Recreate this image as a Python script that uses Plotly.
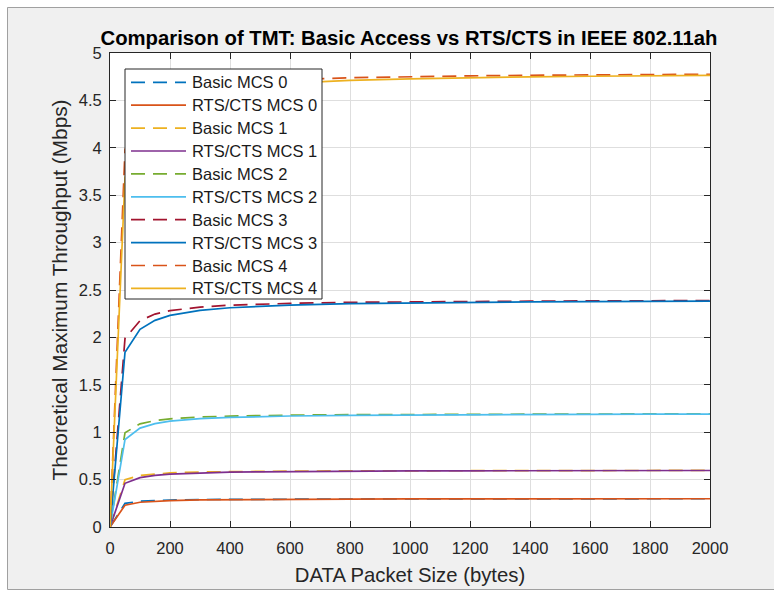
import plotly.graph_objects as go

# Packet sizes (bytes)
packet_size = [0, 50, 100, 150, 200, 300, 400, 500, 600, 800, 1000, 1200, 1400, 1600, 1800, 2000]

# Theoretical maximum throughput (Mbps)
basic_mcs0 = [0, 0.249, 0.272, 0.281, 0.285, 0.290, 0.292, 0.294, 0.295, 0.296, 0.297, 0.297, 0.298, 0.298, 0.298, 0.298]
rts_mcs0   = [0, 0.230, 0.261, 0.273, 0.279, 0.286, 0.289, 0.291, 0.293, 0.294, 0.296, 0.296, 0.297, 0.297, 0.298, 0.298]
basic_mcs1 = [0, 0.498, 0.544, 0.561, 0.571, 0.580, 0.585, 0.588, 0.590, 0.592, 0.594, 0.595, 0.596, 0.596, 0.597, 0.597]
rts_mcs1   = [0, 0.461, 0.521, 0.545, 0.558, 0.571, 0.578, 0.582, 0.585, 0.589, 0.591, 0.593, 0.594, 0.594, 0.595, 0.596]
basic_mcs2 = [0, 0.995, 1.088, 1.123, 1.141, 1.160, 1.170, 1.176, 1.180, 1.185, 1.188, 1.190, 1.191, 1.192, 1.193, 1.194]
rts_mcs2   = [0, 0.922, 1.043, 1.090, 1.116, 1.143, 1.156, 1.165, 1.171, 1.178, 1.182, 1.185, 1.187, 1.189, 1.190, 1.191]
basic_mcs3 = [0, 1.990, 2.176, 2.246, 2.282, 2.320, 2.340, 2.352, 2.359, 2.370, 2.376, 2.380, 2.382, 2.385, 2.386, 2.388]
rts_mcs3   = [0, 1.843, 2.085, 2.180, 2.232, 2.285, 2.313, 2.330, 2.341, 2.356, 2.364, 2.370, 2.374, 2.378, 2.380, 2.382]
basic_mcs4 = [0, 3.980, 4.352, 4.491, 4.565, 4.641, 4.680, 4.703, 4.719, 4.739, 4.751, 4.759, 4.765, 4.769, 4.773, 4.776]
rts_mcs4   = [0, 3.686, 4.170, 4.361, 4.463, 4.570, 4.625, 4.659, 4.682, 4.711, 4.728, 4.740, 4.749, 4.755, 4.760, 4.764]

series_names = ["Basic MCS 0", "RTS/CTS MCS 0", "Basic MCS 1", "RTS/CTS MCS 1", "Basic MCS 2",
                "RTS/CTS MCS 2", "Basic MCS 3", "RTS/CTS MCS 3", "Basic MCS 4", "RTS/CTS MCS 4"]
series_values = [basic_mcs0, rts_mcs0, basic_mcs1, rts_mcs1, basic_mcs2,
                 rts_mcs2, basic_mcs3, rts_mcs3, basic_mcs4, rts_mcs4]
colors = ["#0072BD", "#D95319", "#EDB120", "#7E2F8E", "#77AC30",
          "#4DBEEE", "#A2142F", "#0072BD", "#D95319", "#EDB120"]

x_ticks = list(range(0, 2001, 200))
y_ticks = [0, 0.5, 1, 1.5, 2, 2.5, 3, 3.5, 4, 4.5, 5]
y_tick_text = ["0", "0.5", "1", "1.5", "2", "2.5", "3", "3.5", "4", "4.5", "5"]

DASH = "14px,8px"
LW = 1.7

fig = go.Figure()
for name, vals, col in zip(series_names, series_values, colors):
    dashed = name.startswith("Basic")
    fig.add_trace(go.Scatter(
        x=packet_size, y=vals, mode="lines", name=name, showlegend=False,
        line=dict(color=col, width=LW, dash=DASH if dashed else "solid"),
    ))

FONT = "Liberation Sans, Arial, Helvetica, sans-serif"
axis_common = dict(
    showline=True, linecolor="#262626", linewidth=1, mirror="ticks",
    ticks="inside", ticklen=6, tickcolor="#262626", tickwidth=1,
    showgrid=True, gridcolor="#dedede", gridwidth=1, zeroline=False,
    automargin=False,
    tickfont=dict(family=FONT, size=16.5, color="#262626"),
)

# plot area in page pixels: x 110..710, y 53..527
def px(xp):
    return (xp - 110) / 600.0

def py(yp):
    return (527 - yp) / 474.0

FRAME = "#a0a0a0"
shapes = [
    # white margins around the grey figure window
    dict(type="rect", xref="paper", yref="paper", x0=px(-20), x1=px(7), y0=py(620), y1=py(-20),
         fillcolor="white", line=dict(width=0), layer="below"),
    dict(type="rect", xref="paper", yref="paper", x0=px(-20), x1=px(800), y0=py(7), y1=py(-20),
         fillcolor="white", line=dict(width=0), layer="below"),
    dict(type="rect", xref="paper", yref="paper", x0=px(-20), x1=px(800), y0=py(620), y1=py(589),
         fillcolor="white", line=dict(width=0), layer="below"),
    dict(type="line", xref="paper", yref="paper", x0=px(7.5), x1=px(7.5), y0=py(589.5), y1=py(7.5),
         line=dict(color=FRAME, width=1), layer="below"),
    dict(type="line", xref="paper", yref="paper", x0=px(7.5), x1=px(800), y0=py(7.5), y1=py(7.5),
         line=dict(color=FRAME, width=1), layer="below"),
    dict(type="line", xref="paper", yref="paper", x0=px(7.5), x1=px(800), y0=py(589.5), y1=py(589.5),
         line=dict(color=FRAME, width=1), layer="below"),
    # legend box
    dict(type="rect", xref="paper", yref="paper", x0=px(125), x1=px(322), y0=py(299), y1=py(69),
         fillcolor="white", line=dict(color="#262626", width=1), layer="above"),
]
annotations = []
for i, (name, col) in enumerate(zip(series_names, colors)):
    yy = py(82.3 + 22.9 * i)
    shapes.append(dict(type="line", xref="paper", yref="paper", x0=px(131), x1=px(186), y0=yy, y1=yy,
                       line=dict(color=col, width=LW, dash=DASH if name.startswith("Basic") else "solid"),
                       layer="above"))
    annotations.append(dict(text=name, xref="paper", yref="paper", x=px(190), y=yy,
                            xanchor="left", yanchor="middle", showarrow=False,
                            font=dict(family=FONT, size=16.5, color="#1a1a1a")))

fig.update_layout(
    width=774, height=592,
    margin=dict(l=110, r=64, t=53, b=65),
    paper_bgcolor="#f0f0f0", plot_bgcolor="white",
    font=dict(family=FONT, color="#262626"),
    title=dict(text="<b>Comparison of TMT: Basic Access vs RTS/CTS in IEEE 802.11ah</b>",
               x=409 / 774, xanchor="center", y=1 - 38 / 592, yanchor="middle",
               font=dict(family=FONT, size=20.3, color="black")),
    xaxis=dict(range=[0, 2000], tickvals=x_ticks, ticklabelstandoff=6,
               title=dict(text="DATA Packet Size (bytes)", font=dict(family=FONT, size=20.3, color="#262626"), standoff=11),
               **axis_common),
    yaxis=dict(range=[0, 5], tickvals=y_ticks, ticktext=y_tick_text, ticklabelstandoff=4,
               title=dict(text="Theoretical Maximum Throughput (Mbps)", font=dict(family=FONT, size=20.8, color="#262626"), standoff=5),
               **axis_common),
    showlegend=False,
    shapes=shapes,
    annotations=annotations,
)

fig.write_html(
    "out.html",
    config={"displayModeBar": False},
    post_script="document.body.style.margin='0';document.documentElement.style.overflow='hidden';document.body.style.overflow='hidden';",
)
